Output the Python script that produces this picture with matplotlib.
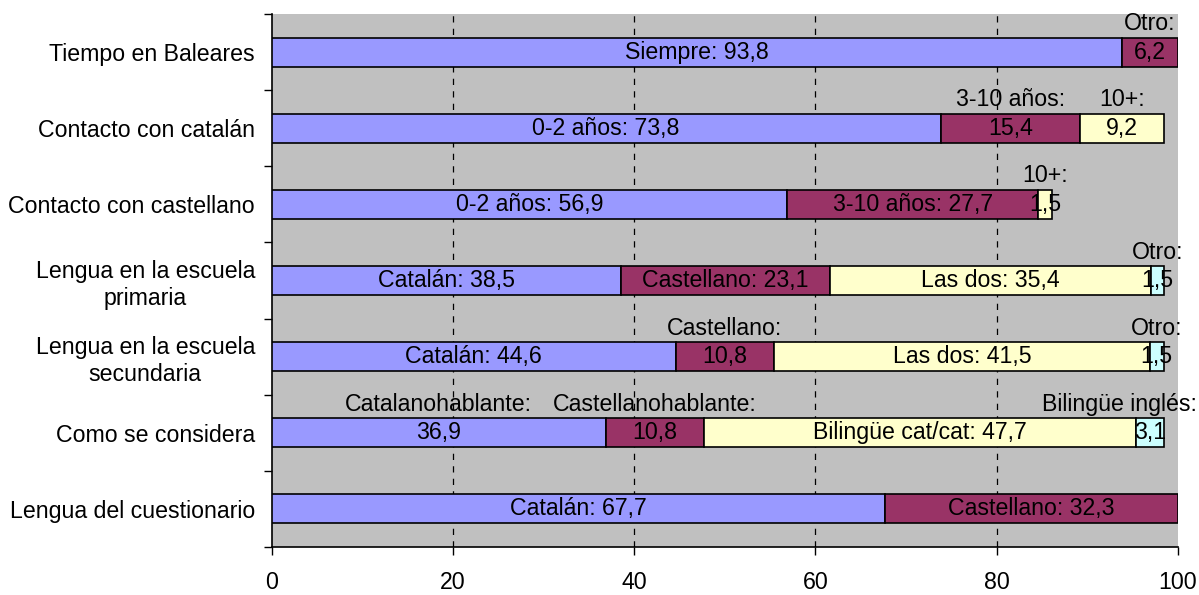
import matplotlib
matplotlib.use("Agg")
import matplotlib.pyplot as plt
import numpy as np

plt.rcParams['font.family'] = ['Liberation Sans', 'DejaVu Sans']

categories = [
    "Tiempo en Baleares",
    "Contacto con catalán",
    "Contacto con castellano",
    "Lengua en la escuela\nprimaria",
    "Lengua en la escuela\nsecundaria",
    "Como se considera",
    "Lengua del cuestionario",
]
segment_names = [
    ["Siempre", "Otro"],
    ["0-2 años", "3-10 años", "10+"],
    ["0-2 años", "3-10 años", "10+"],
    ["Catalán", "Castellano", "Las dos", "Otro"],
    ["Catalán", "Castellano", "Las dos", "Otro"],
    ["Catalanohablante", "Castellanohablante", "Bilingüe cat/cat", "Bilingüe inglés"],
    ["Catalán", "Castellano"],
]
segment_values = [
    [93.8, 6.2],
    [73.8, 15.4, 9.2],
    [56.9, 27.7, 1.5],
    [38.5, 23.1, 35.4, 1.5],
    [44.6, 10.8, 41.5, 1.5],
    [36.9, 10.8, 47.7, 3.1],
    [67.7, 32.3],
]
# whether the data label is wrapped onto two lines (name above, value in bar)
label_wrapped = [
    [False, True],
    [False, True, True],
    [False, False, True],
    [False, False, False, True],
    [False, True, False, True],
    [True, True, False, True],
    [False, False],
]
xticks = [0, 20, 40, 60, 80, 100]

colors = ['#9999FF', '#993366', '#FFFFCC', '#CCFFFF']
FS = 16.7

fig = plt.figure(figsize=(11.99, 5.95), dpi=100)
ax = fig.add_axes([0.2265, 0.0807, 0.9825 - 0.2265, 0.9765 - 0.0807])
ax.set_facecolor('#C0C0C0')

y = np.arange(len(categories))
name_texts = []
for i, (names, vals, wraps) in enumerate(zip(segment_names, segment_values, label_wrapped)):
    left = 0.0
    for j, (nm, v, w) in enumerate(zip(names, vals, wraps)):
        ax.barh(y[i], v, left=left, height=0.38, color=colors[j],
                edgecolor='black', linewidth=1.2, zorder=3)
        val = f"{v:.1f}".replace('.', ',')
        cx = left + v / 2
        if w:
            ax.text(cx, y[i], val, ha='center', va='center', fontsize=FS, zorder=4)
            t = ax.annotate(f"{nm}:", (cx, y[i]), xytext=(0, 20.5),
                            textcoords='offset points', ha='center', va='center',
                            fontsize=FS, zorder=4, annotation_clip=False)
            name_texts.append(t)
        else:
            ax.text(cx, y[i], f"{nm}: {val}", ha='center', va='center',
                    fontsize=FS, zorder=4)
        left += v

ax.set_xlim(0, 100)
ax.set_ylim(len(categories) - 0.5, -0.5)
ax.set_xticks(xticks)
ax.set_xticklabels([str(t) for t in xticks], fontsize=FS)
ax.set_yticks(y)
ax.set_yticklabels(categories, fontsize=FS, multialignment='center')
ax.set_yticks(np.arange(len(categories) + 1) - 0.5, minor=True)
ax.tick_params(axis='y', which='major', length=0, pad=12)
ax.tick_params(axis='y', which='minor', length=6, width=1, direction='out')
ax.tick_params(axis='x', which='major', length=6, width=1, direction='out', pad=11)

for x in xticks[1:-1]:
    ax.axvline(x, color='black', linestyle=(0, (5, 5)), linewidth=0.9, zorder=1)

for s in ['top', 'right']:
    ax.spines[s].set_visible(False)
for s in ['left', 'bottom']:
    ax.spines[s].set_color('black')
    ax.spines[s].set_linewidth(1.2)

# keep wrapped name labels inside the figure
fig.canvas.draw()
r = fig.canvas.get_renderer()
W = fig.bbox.width
for t in name_texts:
    bb = t.get_window_extent(renderer=r)
    if bb.x1 > W - 2:
        shift_pts = (bb.x1 - (W - 2)) * 72.0 / fig.dpi
        ox, oy = t.xyann
        t.xyann = (ox - shift_pts, oy)

fig.savefig('out.png', dpi=100, facecolor='white')
